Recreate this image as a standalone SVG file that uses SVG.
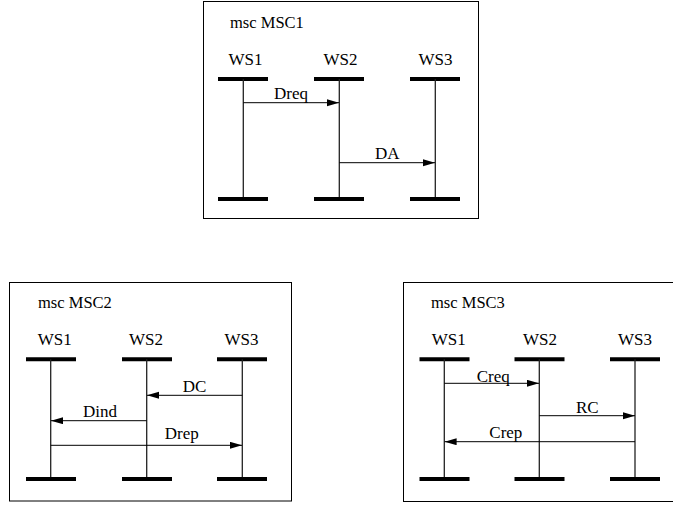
<svg xmlns="http://www.w3.org/2000/svg" width="673" height="506" viewBox="0 0 673 506">
<style>
.frame{fill:none;stroke:#000;stroke-width:1}
.bar{stroke:#000;stroke-width:4}
.life{stroke:#222;stroke-width:1.3}
.msg{stroke:#000;stroke-width:1;fill:none;marker-end:url(#ah)}
text{font-family:"Liberation Serif","Times New Roman",serif;font-size:17px;fill:#000}
.title{font-size:16.5px}
</style>
<defs>
<marker id="ah" markerUnits="userSpaceOnUse" markerWidth="13" markerHeight="8" refX="12" refY="3.5" orient="auto">
<path d="M0,0 L12,3.5 L0,7 z" fill="#000"/>
</marker>
</defs>
<rect width="673" height="506" fill="#fff"/>

<!-- MSC1 -->
<g id="msc1-frame">
<rect class="frame" x="203.5" y="1.5" width="275" height="217"/>
<text class="title" x="230" y="28">msc MSC1</text>
</g>
<g id="msc1-ws1">
<text x="228.5" y="65">WS1</text>
<line class="bar" x1="218" y1="79" x2="268" y2="79"/>
<line class="life" x1="243.3" y1="79" x2="243.3" y2="199"/>
<line class="bar" x1="218" y1="199" x2="268" y2="199"/>
</g>
<g id="msc1-ws2">
<text x="323.5" y="65">WS2</text>
<line class="bar" x1="314" y1="79" x2="364" y2="79"/>
<line class="life" x1="339.3" y1="79" x2="339.3" y2="199"/>
<line class="bar" x1="314" y1="199" x2="364" y2="199"/>
</g>
<g id="msc1-ws3">
<text x="418.5" y="65">WS3</text>
<line class="bar" x1="410" y1="79" x2="460" y2="79"/>
<line class="life" x1="435.3" y1="79" x2="435.3" y2="199"/>
<line class="bar" x1="410" y1="199" x2="460" y2="199"/>
</g>
<g id="msc1-connectors">
<line class="msg" x1="243.3" y1="102.7" x2="339" y2="102.7"/>
<text x="274" y="99">Dreq</text>
<line class="msg" x1="339.3" y1="162.7" x2="435" y2="162.7"/>
<text x="375" y="159">DA</text>
</g>

<!-- MSC2 -->
<g id="msc2-frame">
<rect class="frame" x="9.5" y="282.5" width="282" height="218.5"/>
<text class="title" x="38" y="308">msc MSC2</text>
</g>
<g id="msc2-ws1">
<text x="37.7" y="345">WS1</text>
<line class="bar" x1="26" y1="359.3" x2="76" y2="359.3"/>
<line class="life" x1="50.7" y1="359.3" x2="50.7" y2="479"/>
<line class="bar" x1="26" y1="479" x2="76" y2="479"/>
</g>
<g id="msc2-ws2">
<text x="129" y="345">WS2</text>
<line class="bar" x1="122" y1="359.3" x2="172" y2="359.3"/>
<line class="life" x1="146.7" y1="359.3" x2="146.7" y2="479"/>
<line class="bar" x1="122" y1="479" x2="172" y2="479"/>
</g>
<g id="msc2-ws3">
<text x="224.5" y="345">WS3</text>
<line class="bar" x1="217" y1="359.3" x2="267" y2="359.3"/>
<line class="life" x1="242.3" y1="359.3" x2="242.3" y2="479"/>
<line class="bar" x1="217" y1="479" x2="267" y2="479"/>
</g>
<g id="msc2-connectors">
<line class="msg" x1="242.3" y1="395.3" x2="147" y2="395.3"/>
<text x="182.7" y="392">DC</text>
<line class="msg" x1="146.7" y1="420.7" x2="51" y2="420.7"/>
<text x="83" y="417">Dind</text>
<line class="msg" x1="50.7" y1="445.3" x2="242" y2="445.3"/>
<text x="164.7" y="438.5">Drep</text>
</g>

<!-- MSC3 -->
<g id="msc3-frame">
<rect class="frame" x="403.5" y="282.5" width="285" height="219"/>
<text class="title" x="431" y="308">msc MSC3</text>
</g>
<g id="msc3-ws1">
<text x="431.7" y="345">WS1</text>
<line class="bar" x1="419.5" y1="359.3" x2="469.5" y2="359.3"/>
<line class="life" x1="444.3" y1="359.3" x2="444.3" y2="479"/>
<line class="bar" x1="419.5" y1="479" x2="469.5" y2="479"/>
</g>
<g id="msc3-ws2">
<text x="523" y="345">WS2</text>
<line class="bar" x1="514.5" y1="359.3" x2="564.5" y2="359.3"/>
<line class="life" x1="539.3" y1="359.3" x2="539.3" y2="479"/>
<line class="bar" x1="514.5" y1="479" x2="564.5" y2="479"/>
</g>
<g id="msc3-ws3">
<text x="618" y="345">WS3</text>
<line class="bar" x1="610" y1="359.3" x2="660" y2="359.3"/>
<line class="life" x1="635" y1="359.3" x2="635" y2="479"/>
<line class="bar" x1="610" y1="479" x2="660" y2="479"/>
</g>
<g id="msc3-connectors">
<line class="msg" x1="444.3" y1="383.3" x2="539" y2="383.3"/>
<text x="476.7" y="381.5">Creq</text>
<line class="msg" x1="539.3" y1="415.7" x2="635" y2="415.7"/>
<text x="576" y="412.7">RC</text>
<line class="msg" x1="635" y1="441.7" x2="444.6" y2="441.7"/>
<text x="489.3" y="438">Crep</text>
</g>
</svg>
